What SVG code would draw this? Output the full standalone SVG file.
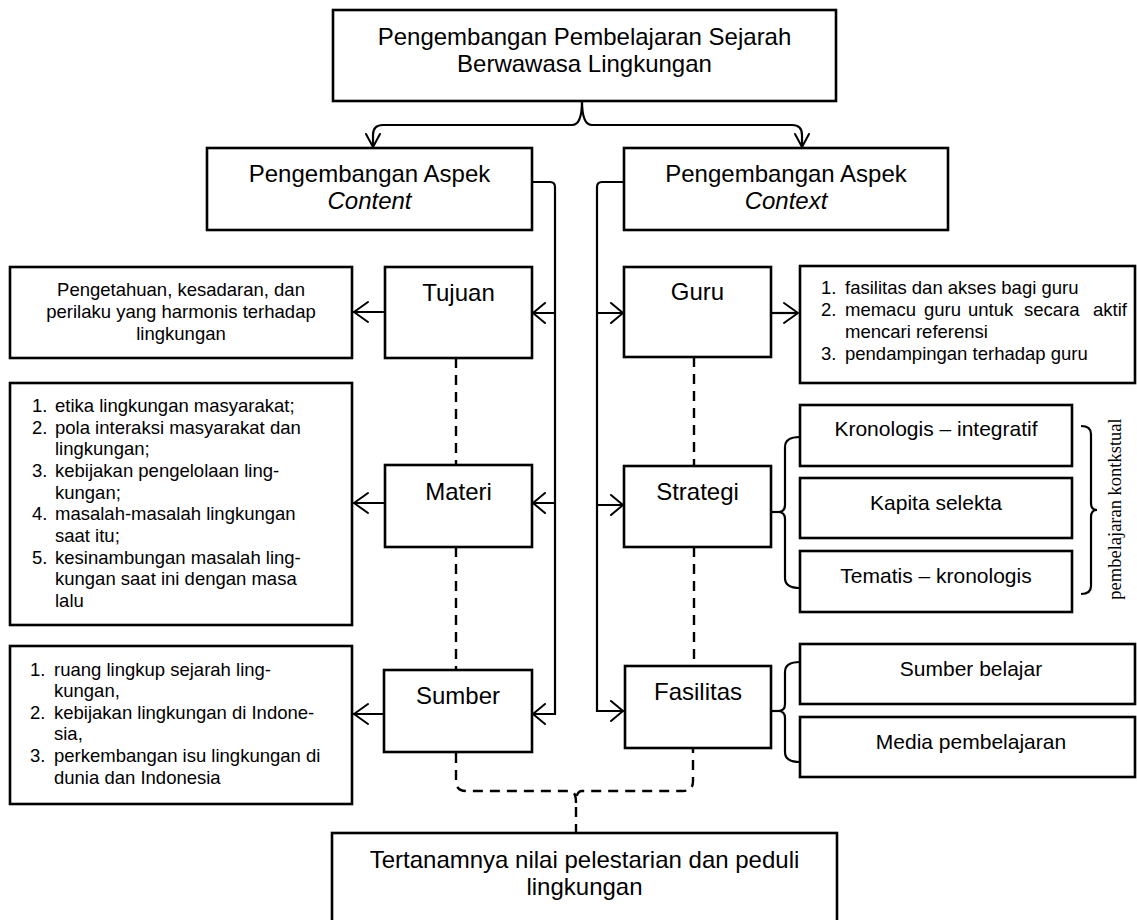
<svg xmlns="http://www.w3.org/2000/svg" width="1137" height="920" viewBox="0 0 1137 920">
<style>
.box{fill:#fff;stroke:#000;stroke-width:2.6}
.ln{fill:none;stroke:#000;stroke-width:2.2}
.ds{fill:none;stroke:#000;stroke-width:2.4;stroke-dasharray:10 7}
.ah{fill:none;stroke:#000;stroke-width:2;stroke-linecap:round;stroke-linejoin:round}
text{font-family:"Liberation Sans",Arial,sans-serif;fill:#000}
.big{font-size:24px;text-anchor:middle}
.sub{font-size:21px;text-anchor:middle}
.sm{font-size:18.5px}
.smc{font-size:18.5px;text-anchor:middle}
.rot{font-family:"Liberation Serif","Times New Roman",serif;font-size:18.5px;text-anchor:middle}
</style>

<g id="connectors">
  <!-- top brace -->
  <path class="ln" d="M582,101 Q582,125 572,125 L383,125 Q373,125 373,135 L373,146"/>
  <path class="ln" d="M582,101 Q582,125 592,125 L792,125 Q802,125 802,135 L802,146"/>
  <path class="ah" d="M366,134 L373,147 L380,134"/>
  <path class="ah" d="M795,134 L802,147 L809,134"/>
  <!-- left trunk -->
  <path class="ln" d="M532,182 L550,182 Q555,182 555,187 L555,714 L532,714"/>
  <path class="ln" d="M555,313 L532,313 M555,503 L532,503"/>
  <path class="ah" d="M545,303 L533,313 L545,323 M545,493 L533,503 L545,513 M545,704 L533,714 L545,724"/>
  <!-- right trunk -->
  <path class="ln" d="M624,182 L602,182 Q597,182 597,187 L597,711 L624,711"/>
  <path class="ln" d="M597,313 L624,313 M597,505 L624,505"/>
  <path class="ah" d="M611,303 L623,313 L611,323 M611,495 L623,505 L611,515 M611,701 L623,711 L611,721"/>
  <!-- left output arrows -->
  <path class="ln" d="M385,312 L353,312 M385,503 L353,503 M384,714 L353,714"/>
  <path class="ah" d="M368,302 L354,312 L368,322 M368,493 L354,503 L368,513 M368,704 L354,714 L368,724"/>
  <!-- guru to list -->
  <path class="ln" d="M771,313 L798,313"/>
  <path class="ah" d="M784,303 L798,313 L784,323"/>
  <!-- dashed verticals -->
  <path class="ds" d="M456,358 L456,465 M456,547 L456,670"/>
  <path class="ds" d="M694,357 L694,466 M694,547 L694,666"/>
  <!-- bottom dashed brace -->
  <path class="ds" d="M456,753 L456,781 Q456,791 466,791 L570,791 Q576,791 576,803 Q576,791 582,791 L683,791 Q693,791 693,781 L693,749"/>
  <path class="ds" d="M576,807 L576,833"/>
  <!-- strategi brace -->
  <path class="ln" d="M771,512 L778,512"/>
  <path class="ln" d="M800,437 Q785,437 785,447 L785,505 Q785,512 778,512 Q785,512 785,519 L785,578 Q785,588 800,588"/>
  <!-- pembelajaran kontekstual bracket -->
  <path class="ln" d="M1081,426 Q1091,426 1091,434 L1091,503 Q1091,510 1097,510 Q1091,510 1091,517 L1091,586 Q1091,594 1081,594"/>
  <!-- fasilitas brace -->
  <path class="ln" d="M771,711 L778,711"/>
  <path class="ln" d="M800,662 Q785,662 785,672 L785,704 Q785,711 778,711 Q785,711 785,718 L785,752 Q785,762 800,762"/>
</g>

<g id="node-top">
  <rect class="box" x="333" y="10" width="503" height="91"/>
  <text class="big" x="584.5" y="45">Pengembangan Pembelajaran Sejarah</text>
  <text class="big" x="584.5" y="72">Berwawasa Lingkungan</text>
</g>

<g id="node-content">
  <rect class="box" x="207" y="148" width="325" height="82"/>
  <text class="big" x="369.5" y="182">Pengembangan Aspek</text>
  <text class="big" x="369.5" y="209" font-style="italic">Content</text>
</g>

<g id="node-context">
  <rect class="box" x="624" y="148" width="324" height="82"/>
  <text class="big" x="786" y="182">Pengembangan Aspek</text>
  <text class="big" x="786" y="209" font-style="italic">Context</text>
</g>

<g id="node-tujuan">
  <rect class="box" x="385" y="267" width="147" height="91"/>
  <text class="big" x="458.5" y="301">Tujuan</text>
</g>

<g id="node-tujuan-desc">
  <rect class="box" x="10" y="267" width="342" height="91"/>
  <text class="smc" x="181" y="296">Pengetahuan, kesadaran, dan</text>
  <text class="smc" x="181" y="318">perilaku yang harmonis terhadap</text>
  <text class="smc" x="181" y="340">lingkungan</text>
</g>

<g id="node-materi">
  <rect class="box" x="385" y="465" width="147" height="82"/>
  <text class="big" x="458.5" y="500">Materi</text>
</g>

<g id="node-materi-desc">
  <rect class="box" x="10" y="383" width="342" height="242"/>
  <text class="sm" x="32" y="412">1.</text><text class="sm" x="55" y="412">etika lingkungan masyarakat;</text>
  <text class="sm" x="32" y="433.7">2.</text><text class="sm" x="55" y="433.7">pola interaksi masyarakat dan</text>
  <text class="sm" x="55" y="455.4">lingkungan;</text>
  <text class="sm" x="32" y="477">3.</text><text class="sm" x="55" y="477">kebijakan pengelolaan ling-</text>
  <text class="sm" x="55" y="498.7">kungan;</text>
  <text class="sm" x="32" y="520.4">4.</text><text class="sm" x="55" y="520.4">masalah-masalah lingkungan</text>
  <text class="sm" x="55" y="542">saat itu;</text>
  <text class="sm" x="32" y="563.7">5.</text><text class="sm" x="55" y="563.7">kesinambungan masalah ling-</text>
  <text class="sm" x="55" y="585.4">kungan saat ini dengan masa</text>
  <text class="sm" x="55" y="607">lalu</text>
</g>

<g id="node-sumber">
  <rect class="box" x="384" y="670" width="148" height="82"/>
  <text class="big" x="458" y="704">Sumber</text>
</g>

<g id="node-sumber-desc">
  <rect class="box" x="10" y="646" width="342" height="158"/>
  <text class="sm" x="30" y="675.5">1.</text><text class="sm" x="54" y="675.5">ruang lingkup sejarah ling-</text>
  <text class="sm" x="54" y="697">kungan,</text>
  <text class="sm" x="30" y="718.7">2.</text><text class="sm" x="54" y="718.7">kebijakan lingkungan di Indone-</text>
  <text class="sm" x="54" y="740.4">sia,</text>
  <text class="sm" x="30" y="762">3.</text><text class="sm" x="54" y="762">perkembangan isu lingkungan di</text>
  <text class="sm" x="54" y="783.5">dunia dan Indonesia</text>
</g>

<g id="node-guru">
  <rect class="box" x="624" y="267" width="147" height="90"/>
  <text class="big" x="697.5" y="300">Guru</text>
</g>

<g id="node-guru-desc">
  <rect class="box" x="800" y="266" width="335" height="117"/>
  <text class="sm" x="821" y="294">1.</text><text class="sm" x="845" y="294">fasilitas dan akses bagi guru</text>
  <text class="sm" x="821" y="316">2.</text><text class="sm" y="316"><tspan x="845">memacu</tspan><tspan x="924">guru</tspan><tspan x="968">untuk</tspan><tspan x="1024">secara</tspan><tspan x="1093">aktif</tspan></text>
  <text class="sm" x="845" y="338">mencari referensi</text>
  <text class="sm" x="821" y="360">3.</text><text class="sm" x="845" y="360">pendampingan terhadap guru</text>
</g>

<g id="node-strategi">
  <rect class="box" x="624" y="466" width="147" height="81"/>
  <text class="big" x="697.5" y="500">Strategi</text>
</g>

<g id="node-kronologis">
  <rect class="box" x="800" y="405" width="272" height="61"/>
  <text class="sub" x="936" y="435.5">Kronologis – integratif</text>
</g>

<g id="node-kapita">
  <rect class="box" x="800" y="478" width="272" height="60"/>
  <text class="sub" x="936" y="509.5">Kapita selekta</text>
</g>

<g id="node-tematis">
  <rect class="box" x="800" y="551" width="272" height="61"/>
  <text class="sub" x="936" y="582.5">Tematis – kronologis</text>
</g>

<g id="label-kontekstual">
  <text class="rot" transform="translate(1121,509) rotate(-90)">pembelajaran kontkstual</text>
</g>

<g id="node-fasilitas">
  <rect class="box" x="625" y="666" width="146" height="82"/>
  <text class="big" x="698" y="700">Fasilitas</text>
</g>

<g id="node-sumber-belajar">
  <rect class="box" x="800" y="644" width="335" height="60"/>
  <text class="sub" x="971" y="675.5">Sumber belajar</text>
</g>

<g id="node-media">
  <rect class="box" x="800" y="717" width="335" height="60"/>
  <text class="sub" x="971" y="748.5">Media pembelajaran</text>
</g>

<g id="node-bottom">
  <rect class="box" x="332" y="833" width="505" height="100"/>
  <text class="big" x="584.5" y="868">Tertanamnya nilai pelestarian dan peduli</text>
  <text class="big" x="584.5" y="895">lingkungan</text>
</g>
</svg>
